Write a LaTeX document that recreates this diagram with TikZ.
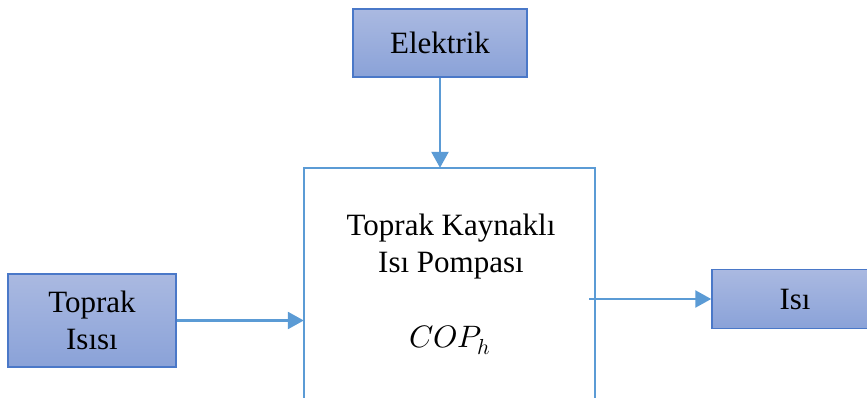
\documentclass[tikz,border=0pt]{standalone}
\usepackage{fontspec}
\usepackage{unicode-math}
\setmainfont{Liberation Serif}
\usetikzlibrary{arrows.meta}
\definecolor{kutuUst}{HTML}{AAB9E1}
\definecolor{kutuAlt}{HTML}{8AA2D8}
\definecolor{kutuKenar}{HTML}{4A78C8}
\definecolor{okRenk}{HTML}{5B9BD5}
\tikzset{
  kutu/.style={draw=kutuKenar, line width=1.5pt, top color=kutuUst,
    bottom color=kutuAlt, inner sep=0pt, align=center,
    font=\fontsize{31}{37}\selectfont},
  ok/.style={draw=okRenk, line width=2.5pt,
    -{Triangle[length=16pt,width=17pt]}},
}
\begin{document}
\begin{tikzpicture}[x=1pt, y=-1pt]
  \useasboundingbox (0,0) rectangle (867,397);

  % Kaynaklar
  \node[kutu, minimum width=174pt, minimum height=68pt] (elektrik)
    at (440,43) {Elektrik};
  \node[kutu, minimum width=168pt, minimum height=93pt] (toprak)
    at (92,320.5) {Toprak\\Isısı};
  \node[kutu, minimum width=166pt, minimum height=59pt] (isi)
    at (795,299) {Isı};

  % Isı pompası (alt kenarı görünmüyor)
  \node[minimum width=291pt, minimum height=260pt, inner sep=0pt] (pompa)
    at (449.5,298) {};
  \draw[okRenk, line width=2.5pt]
    (pompa.south west) -- (pompa.north west) -- (pompa.north east)
    -- (pompa.south east);
  \node[anchor=north, align=center, inner sep=0pt,
    font=\fontsize{31}{37}\selectfont] (etiket) at (451,214)
    {Toprak Kaynaklı\\Isı Pompası};
  \node[anchor=base, inner sep=0pt, font=\fontsize{31}{37}\selectfont]
    (cop) at (450,347) {$COP_h$};

  % Oklar
  \draw[ok] (elektrik.south) -- (elektrik.south |- pompa.north);
  \draw[ok] (toprak.east) -- (toprak.east -| pompa.west);
  \draw[ok] ([xshift=-6pt]pompa.east |- isi.west) -- (isi.west);
\end{tikzpicture}
\end{document}
